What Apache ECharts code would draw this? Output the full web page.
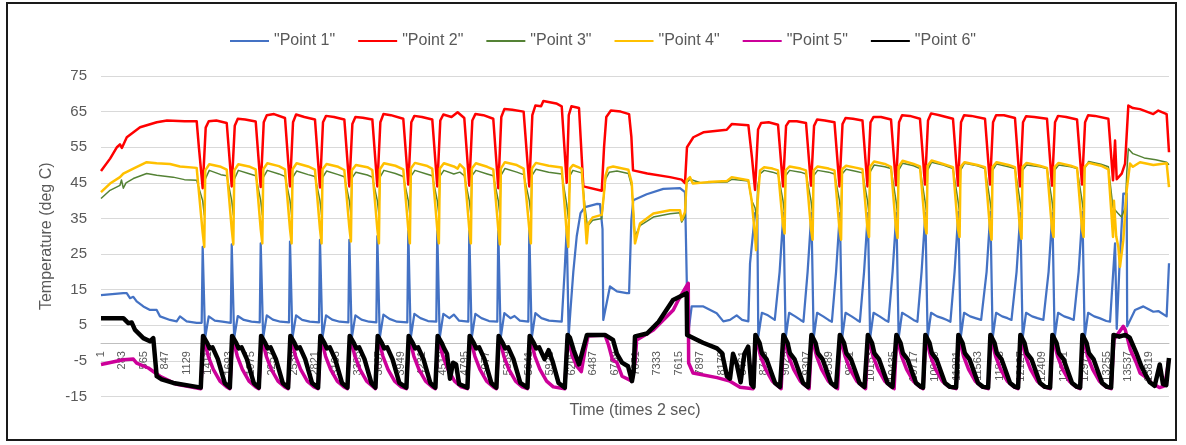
<!DOCTYPE html>
<html><head><meta charset="utf-8">
<script src="https://cdn.jsdelivr.net/npm/echarts/dist/echarts.min.js"></script>
<style>
html,body{margin:0;padding:0;background:#fff;}
#chart{position:absolute;left:0;top:0;width:1186px;height:445px;}
#frame{position:absolute;left:6px;top:2px;width:1171px;height:439px;border:2px solid #1a1a1a;box-sizing:border-box;pointer-events:none;}
</style>
</head><body><div id="chart"></div><div id="frame"></div>
<script>
const seriesNames = ['"Point 1"', '"Point 2"', '"Point 3"', '"Point 4"', '"Point 5"', '"Point 6"'];
const xMaxIndex = 14076;
const xLabelStep = 282;
const yTicks = [-15, -5, 5, 15, 25, 35, 45, 55, 65, 75];

// Point 1 (blue)
const point1 = [[0,13.5],[294,14],[339,14],[382,12.6],[426,13],[470,11.7],[558,10.3],[646,9.3],[734,9.3],[778,7.5],[909,6.5],[997,6.1],[1041,7.5],[1129,6.1],[1261,5.7],
[1327,5.7],[1340,27],[1365,27.3],[1372,1.5],[1420,7.5],[1500,6.3],[1600,6],
[1710,5.7],[1723,27.7],[1748,28],[1755,1.5],[1803,7.6],[1883,6.5],[1983,6],
[2092,5.8],[2105,28],[2130,28.3],[2137,1.5],[2185,7.8],[2265,6.6],[2365,6],
[2478,5.8],[2491,28.5],[2516,28.8],[2523,1.5],[2571,7.8],[2651,6.5],[2751,6],
[2873,5.8],[2886,29],[2911,29.3],[2918,1.5],[2966,7.8],[3046,6.6],[3146,6],
[3260,5.8],[3273,29],[3298,29.3],[3305,1.5],[3353,7.8],[3433,6.6],[3533,6],
[3629,5.8],[3642,30],[3667,30.3],[3674,1.5],[3722,8],[3802,6.8],[3902,6],
[4037,5.8],[4050,31.5],[4075,31.8],[4082,1.5],[4130,8.2],[4210,7],[4310,6.2],
[4419,6],[4432,31.5],[4457,31.8],[4464,1.5],[4512,8.2],[4592,7],[4650,8],[4720,6.3],
[4841,6],[4854,31.5],[4879,31.8],[4886,1.5],[4934,8.2],[5014,7],[5114,6.2],
[5223,6],[5236,31.5],[5261,31.8],[5268,1.5],[5316,8.4],[5396,7],[5450,7.6],[5520,6.3],
[5632,6],[5645,31.7],[5670,32],[5677,1.5],[5725,8.4],[5805,7],[5905,6.3],
[6072,6],[6110,20],[6138,32],[6158,32],[6164,2],[6190,10],[6225,20],[6270,30],[6320,36.5],[6380,38.2],[6540,39.1],[6577,39],[6610,32],[6620,6.5],[6708,15.9],[6800,14.5],[6929,14],[6960,14],[6990,34.5],[7015,40.1],[7192,41.8],[7411,43.3],[7631,43.5],[7697,42.4],[7723,42],[7735,1.9],[7785,10.3],[7939,10.3],[8115,8.4],[8202,6.1],[8290,6.5],[8378,7.8],[8450,6.5],[8532,6.1],[8554,22.4],
[8620,36.5],[8650,36],[8663,1.9],[8710,8.5],[8790,7.8],[8880,6.5],
[8889,6],[8944,20],[8994,36.5],[9014,36],[9024,1.5],[9069,8.5],[9149,7.5],[9219,6.5],
[9258,6],[9313,20],[9363,36.5],[9383,36],[9393,1.5],[9438,8.5],[9518,7.5],[9588,6.5],
[9633,6],[9688,20],[9738,36.5],[9758,36],[9768,1.5],[9813,8.5],[9893,7.5],[9963,6.5],
[10002,6],[10057,20],[10107,36.5],[10127,36],[10137,1.5],[10182,8.5],[10262,7.5],[10332,6.5],
[10378,6],[10433,20],[10483,36.5],[10503,36],[10513,1.5],[10558,8.5],[10638,7.5],[10708,6.5],
[10760,6],[10815,20],[10865,36.5],[10885,36],[10895,1.5],[10940,8.5],[11020,7.5],[11090,7],[11150,6.5],
[11195,6],[11250,20],[11300,36.8],[11320,36.3],[11330,1.5],[11375,8.5],[11455,7.5],[11525,7],[11600,6.5],
[11617,6],[11672,20],[11722,36.8],[11742,36.3],[11752,1.5],[11797,8.5],[11877,7.5],[11947,7],[12000,6.5],
[12012,6.2],[12067,20],[12117,36.5],[12137,36],[12147,1.5],[12192,8.5],[12272,7.5],[12342,7],[12420,6.5],
[12434,6.2],[12489,20],[12539,36.5],[12559,36],[12569,1.5],[12614,8.5],[12694,7.5],[12764,7],[12820,6.5],
[12830,6.2],[12885,20],[12935,36.8],[12955,36.3],[12965,1.5],[13010,8.5],[13090,7.5],[13160,7],[13250,6.2],
[13299,6],[13365,28],[13387,4],[13420,20],[13474,42],[13518,42],[13525,4.7],[13628,9.3],[13738,10.3],[13870,8.8],[13935,9],[14045,7.5],[14076,22.4]];

// Point 2 (red)
const point2 = [[0,48.3],[120,51.8],[210,55],[250,55.8],[275,54.8],[340,57.8],[515,60.6],[735,62],[870,62.5],[1100,62.3],[1261,62.3],[1290,55],
[1340,43.5],[1380,60.5],[1420,62.3],[1520,62.5],[1657,61.8],
[1723,44],[1763,61],[1803,63],[1900,62.8],[2039,62.2],
[2105,43.8],[2145,62],[2185,64],[2280,64.3],[2425,63.2],
[2491,44],[2531,62],[2571,64.2],[2680,63.5],[2820,62.8],
[2886,43.7],[2926,62],[2966,63.8],[3070,63.5],[3207,62.8],
[3273,44],[3313,61.5],[3353,63.5],[3450,63.3],[3576,62.8],
[3642,44],[3682,62],[3722,64.3],[3820,64],[3984,63],
[4050,44.5],[4090,62],[4130,63.8],[4230,63.5],[4366,62.8],
[4432,44],[4472,62.5],[4512,64.2],[4620,63.5],[4700,64.8],[4788,63.2],
[4854,44.2],[4894,62.5],[4934,64.3],[5040,64],[5170,63],
[5236,43.5],[5276,63.5],[5316,65.7],[5420,65.5],[5570,65],
[5645,44],[5685,64],[5725,66.7],[5800,66.5],[5830,68],[6000,67.3],[6072,66.5],
[6138,45],[6165,64],[6200,66.5],[6300,66],[6320,65.5],[6357,44],[6380,43.5],[6600,42.8],[6630,55],[6660,63.5],[6720,65.3],[6850,65],[6960,64.3],[6990,58],[7012,48.5],[7200,47.6],[7500,46.6],[7653,45.9],[7697,44.9],[7723,55],[7807,57.8],[7939,59.2],[8247,59.9],[8313,61.5],[8532,61.2],[8580,52],
[8620,43],[8660,60],[8700,61.8],[8800,62],[8923,61.3],
[8989,44],[9029,61],[9069,62.3],[9170,62.3],[9292,61.8],
[9358,44.2],[9398,61],[9438,62.8],[9540,62.5],[9667,62],
[9733,44],[9773,61.5],[9813,63.2],[9910,63],[10036,62.5],
[10102,44],[10142,62],[10182,63.5],[10280,63.5],[10412,62.8],
[10478,44.3],[10518,62],[10558,64],[10660,63.8],[10794,63],
[10860,44.5],[10900,62.5],[10940,64.5],[11050,64],[11229,63],
[11295,44.2],[11335,62],[11375,64],[11470,63.8],[11651,63],
[11717,44.5],[11757,62],[11797,64],[11900,64],[12046,63.2],
[12112,44],[12152,62],[12192,63.7],[12300,63.5],[12468,63],
[12534,44.2],[12574,62],[12614,63.8],[12720,63.5],[12864,62.8],
[12930,44.5],[12970,62],[13010,64],[13100,63.8],[13277,63],
[13338,45.7],[13365,56.9],[13387,46],[13453,47.6],[13497,50.4],[13540,66.7],[13600,66],[13694,65.7],[13869,64.3],[13935,65.3],[14045,64.3],[14076,53.6]];

// Point 3 (green)
const point3 = [[0,40.6],[119,42.9],[250,44.3],[270,45.8],[294,43.5],[330,45],[426,46.2],[602,47.6],[734,47.1],[950,46.6],[1100,45.9],[1261,45.7],
[1274,45.7],[1340,40],[1361,36],[1374,46],[1427,48.5],[1580,47.3],
[1657,47],[1723,40],[1744,36],[1757,46],[1810,48.5],[1964,47.5],
[2039,47],[2105,40],[2126,36],[2139,46.5],[2192,48.5],[2345,47.5],
[2425,46.8],[2491,40],[2512,36],[2525,46.5],[2578,48.3],[2730,47.3],
[2820,46.8],[2886,40],[2907,36],[2920,46.5],[2973,48.3],[3126,47.3],
[3207,46.7],[3273,40],[3294,36],[3307,46.3],[3360,48],[3510,47.2],
[3576,46.6],[3642,40],[3663,36],[3676,46.5],[3729,48.5],[3880,47.6],
[3984,46.8],[4050,40],[4071,36],[4084,46.8],[4137,48.5],[4290,47.5],
[4366,47],[4432,40],[4453,36],[4466,46.8],[4519,48.5],[4650,47.5],[4730,48],
[4788,47],[4854,40],[4875,36],[4888,47],[4941,48.5],[5090,47.5],
[5170,47],[5236,40],[5257,36],[5270,47],[5323,49],[5480,48],
[5570,47.3],[5645,40],[5666,36],[5679,47],[5732,48.8],[5900,48],
[6072,47.5],[6138,39],[6159,35],[6181,47],[6220,48.5],[6335,47.8],[6380,38],[6410,33],[6440,33.5],[6480,34.5],[6600,35],[6620,40],[6650,46],[6700,48],[6800,48.3],[6950,47.6],[6995,44],[7038,30],[7104,33],[7280,35.4],[7500,36.3],[7631,36.6],[7653,34],[7697,35.5],[7719,45],[7763,46],[7900,45],[8250,45.2],[8313,46],[8532,45.5],[8576,40],
[8620,38],[8640,35],[8655,44],[8686,47.5],[8740,48.5],[8850,48],
[8923,47.5],[8989,40],[9010,36],[9023,47],[9076,48.5],[9220,48],
[9292,47.5],[9358,40],[9379,36],[9392,47],[9445,48.5],[9590,48],
[9667,47.5],[9733,40],[9754,36],[9767,47.5],[9820,48.8],[9960,48.2],
[10036,47.8],[10102,40],[10123,36],[10136,48],[10189,50],[10330,49.5],
[10412,49],[10478,40],[10499,36],[10512,48.5],[10565,50.5],[10710,49.8],
[10794,49],[10860,40],[10881,36.5],[10894,48.5],[10947,50.8],[11100,50],
[11229,49],[11295,40],[11316,36.5],[11329,48.5],[11382,50.5],[11550,49.8],
[11651,49],[11717,40],[11738,36.5],[11751,48.5],[11804,50.3],[11960,49.5],
[12046,49],[12112,40],[12133,36.5],[12146,48.5],[12199,50],[12370,49.5],
[12468,49],[12534,40],[12555,36],[12568,48.5],[12621,50],[12780,49.5],
[12864,49],[12930,40],[12951,36.5],[12964,49],[13017,51],[13180,50.2],
[13277,49.5],[13338,38],[13400,36.5],[13450,35.4],[13500,38],[13520,48],[13540,54.6],[13600,53.2],[13750,52],[13900,51.5],[14045,50.8],[14076,50.1]];

// Point 4 (yellow)
const point4 = [[0,42.4],[119,44.8],[250,46.6],[294,47.6],[426,49],[602,50.8],[734,50.5],[909,50.3],[1041,49.6],[1261,49.2],
[1274,49],[1340,31],[1361,27],[1374,48.5],[1427,50.2],[1580,49.5],
[1657,48.7],[1723,32],[1744,27.7],[1757,48.5],[1810,50.2],[1964,49.5],
[2039,48.8],[2105,32],[2126,28],[2139,48.8],[2192,50.5],[2345,49.7],
[2425,48.8],[2491,32],[2512,28],[2525,48.8],[2578,50.5],[2730,49.6],
[2820,48.7],[2886,32],[2907,28],[2920,48.8],[2973,50.3],[3126,49.5],
[3207,48.6],[3273,32.5],[3294,28.5],[3307,48.5],[3360,50],[3510,49.4],
[3576,48.6],[3642,32],[3663,28],[3676,48.8],[3729,50.5],[3880,49.8],
[3984,48.8],[4050,32],[4071,28],[4084,49],[4137,50.6],[4290,49.8],
[4366,49],[4432,32],[4453,28],[4466,49],[4519,50.5],[4650,49.6],[4700,49],[4730,50.2],
[4788,49],[4854,32],[4875,28],[4888,49],[4941,50.5],[5090,49.5],
[5170,48.8],[5236,32],[5257,27.7],[5270,49],[5323,50.8],[5480,50],
[5570,49],[5645,32],[5666,28],[5679,49],[5732,50.6],[5900,49.8],
[6072,49.3],[6138,31],[6159,27],[6181,49],[6220,50],[6335,49],[6380,35],[6401,28],[6423,33.6],[6480,35.3],[6600,36],[6620,40],[6650,47],[6680,49.2],[6750,49.6],[6950,48.7],[6995,45],[7038,28],[7104,33.6],[7280,36.4],[7500,37.3],[7631,37.3],[7653,34.5],[7697,36.8],[7719,45.7],[7763,46.6],[7800,44.8],[8000,45.2],[8250,45.5],[8313,46.6],[8532,45.7],[8576,40],
[8620,30],[8633,26.1],[8655,40],[8686,48.5],[8740,49.4],[8850,49],
[8923,48.5],[8989,33],[9010,30.8],[9023,48.5],[9076,49.6],[9220,49],
[9292,48.5],[9358,32],[9379,29],[9392,48.5],[9445,49.6],[9590,49],
[9667,48.5],[9733,32],[9754,29],[9767,48.8],[9820,49.8],[9960,49.2],
[10036,48.8],[10102,32],[10123,29.8],[10136,49.5],[10189,51],[10330,50.3],
[10412,49.5],[10478,32],[10499,29.5],[10512,49.5],[10565,51.2],[10710,50.3],
[10794,49.6],[10860,33],[10881,30.8],[10894,49.8],[10947,51.3],[11100,50.3],
[11229,49.4],[11295,32],[11316,29.8],[11329,49.5],[11382,50.8],[11550,50],
[11651,49.4],[11717,32],[11738,29],[11751,49.5],[11804,50.8],[11960,50],
[12046,49.4],[12112,32],[12133,29.3],[12146,49.5],[12199,50.6],[12370,49.8],
[12468,49.2],[12534,32],[12555,29.8],[12568,49.4],[12621,50.6],[12780,49.8],
[12864,49.2],[12930,32],[12951,29.8],[12964,49.5],[13017,50.6],[13180,49.8],
[13277,48.8],[13338,29.8],[13350,40],[13380,30],[13408,27],[13430,21.4],[13474,28.9],[13518,42.9],[13562,50.4],[13600,49.5],[13694,50.8],[13870,50],[14045,50.5],[14076,43.8]];

// Point 5 (magenta)
const point5 = [[0,-6],[294,-4.7],[426,-4.5],[470,-5.6],[624,-7],[778,-9.3],[997,-11.6],[1261,-12.6],[1315,-12.8],
[1348,1],[1370,0],[1414,-3.7],[1480,-7.4],[1568,-10.7],[1656,-12.3],[1698,-12.8],
[1731,1],[1753,0],[1797,-3.7],[1863,-7.4],[1951,-10.7],[2039,-12.3],[2080,-12.8],
[2113,1],[2135,0],[2179,-3.7],[2245,-7.4],[2333,-10.7],[2421,-12.3],[2466,-12.8],
[2499,1],[2521,0],[2565,-3.7],[2631,-7.4],[2719,-10.7],[2807,-12.3],[2861,-12.8],
[2894,1],[2916,0],[2960,-3.7],[3026,-7.4],[3114,-10.7],[3202,-12.3],[3248,-12.8],
[3281,1],[3303,0],[3347,-3.7],[3413,-7.4],[3501,-10.7],[3589,-12.3],[3617,-12.8],
[3650,1],[3672,0],[3716,-3.7],[3782,-7.4],[3870,-10.7],[3958,-12.3],[4025,-12.8],
[4058,1],[4080,0],[4124,-3.7],[4190,-7.4],[4278,-10.7],[4366,-12.3],[4407,-12.8],
[4440,1],[4462,0],[4506,-3.7],[4572,-7.4],[4660,-10.7],[4748,-12.3],[4829,-12.8],
[4862,1],[4884,0],[4928,-3.7],[4994,-7.4],[5082,-10.7],[5170,-12.3],[5211,-12.8],
[5244,1],[5266,0],[5310,-3.7],[5376,-7.4],[5464,-10.7],[5552,-12.3],[5620,-12.8],
[5653,1],[5675,0],[5719,-3.7],[5785,-7.4],[5873,-10.7],[5961,-12.3],[6113,-12.8],
[6146,1],[6170,0],[6214,-3.7],[6270,-6.5],[6330,-8],[6380,-2],[6420,2],[6642,2.3],[6690,-0.6],[6740,-4.6],[6800,-5.5],[6867,-9.3],[6998,-10.7],[7040,-5],[7060,0.9],[7280,3.7],[7543,9.3],[7609,12.1],[7740,16.8],[7745,-5.6],[7803,-8.4],[8119,-9.7],[8290,-10.7],[8422,-12.4],[8595,-12.8],
[8628,1],[8650,0],[8694,-3.7],[8760,-7.4],[8848,-10.7],[8936,-12.3],[8964,-12.8],
[8997,1],[9019,0],[9063,-3.7],[9129,-7.4],[9217,-10.7],[9305,-12.3],[9333,-12.8],
[9366,1],[9388,0],[9432,-3.7],[9498,-7.4],[9586,-10.7],[9674,-12.3],[9708,-12.8],
[9741,1],[9763,0],[9807,-3.7],[9873,-7.4],[9961,-10.7],[10049,-12.3],[10077,-12.8],
[10110,1],[10132,0],[10176,-3.7],[10242,-7.4],[10330,-10.7],[10418,-12.3],[10453,-12.8],
[10486,1],[10508,0],[10552,-3.7],[10618,-7.4],[10706,-10.7],[10794,-12.3],[10835,-12.8],
[10868,1],[10890,0],[10934,-3.7],[11000,-7.4],[11088,-10.7],[11176,-12.3],[11270,-12.8],
[11303,1],[11325,0],[11369,-3.7],[11435,-7.4],[11523,-10.7],[11611,-12.3],[11692,-12.8],
[11725,1],[11747,0],[11791,-3.7],[11857,-7.4],[11945,-10.7],[12033,-12.3],[12087,-12.8],
[12120,1],[12142,0],[12186,-3.7],[12252,-7.4],[12340,-10.7],[12428,-12.3],[12509,-12.8],
[12542,1],[12564,0],[12608,-3.7],[12674,-7.4],[12762,-10.7],[12850,-12.3],[12905,-12.8],
[12938,1],[12960,0],[13004,-3.7],[13070,-7.4],[13158,-10.7],[13246,-12.3],[13313,-12.8],
[13350,1],[13474,4.7],[13500,3.7],[13567,-1.9],[13646,-5.6],[13694,-8.4],[13778,-9.7],[13844,-11.2],[13950,-12.5],[14020,-12],[14076,-4.5]];

// Point 6 (black)
const point6 = [[0,7],[294,7],[360,5.6],[404,5.8],[448,3.7],[558,1.4],[646,0.5],[689,1.4],[700,1.8],[734,-9.3],[800,-10.2],[953,-11.2],[1261,-12.3],[1315,-12.5],
[1345,2],[1370,2],[1400,0],[1430,-1.5],[1470,-1.2],[1540,-4.5],[1630,-11.2],[1698,-12.5],
[1728,2],[1753,2],[1783,0],[1813,-1.5],[1853,-1.2],[1923,-4.5],[2013,-11.2],[2080,-12.5],
[2110,2],[2135,2],[2165,0],[2195,-1.5],[2235,-1.2],[2305,-4.5],[2395,-11.2],[2466,-12.5],
[2496,2],[2521,2],[2551,0],[2581,-1.5],[2621,-1.2],[2691,-4.5],[2781,-11.2],[2861,-12.5],
[2891,2],[2916,2],[2946,0],[2976,-1.5],[3016,-1.2],[3086,-4.5],[3176,-11.2],[3248,-12.5],
[3278,2],[3303,2],[3333,0],[3363,-1.5],[3403,-1.2],[3473,-4.5],[3563,-11.2],[3617,-12.5],
[3647,2],[3672,2],[3702,0],[3732,-1.5],[3772,-1.2],[3842,-4.5],[3932,-11.2],[4025,-12.5],
[4055,2],[4080,2],[4110,0],[4140,-1.5],[4180,-1.2],[4250,-4.5],[4340,-11.2],[4407,-12.5],
[4437,2],[4462,2],[4492,0],[4522,-1.5],[4560,-3],[4600,-10],[4640,-5.5],[4680,-6],[4720,-11.5],[4829,-12.5],
[4859,2],[4884,2],[4914,0],[4944,-1.5],[4984,-1.2],[5054,-4.5],[5144,-11.2],[5211,-12.5],
[5241,2],[5266,2],[5296,0],[5326,-1.5],[5366,-1.2],[5436,-4.5],[5526,-11.2],[5620,-12.5],
[5650,2],[5675,2],[5705,0],[5735,-1.5],[5775,-1.2],[5845,-4.5],[5900,-2],[5950,-5],[6030,-11.2],[6113,-12.5],
[6150,2.3],[6180,1.5],[6230,-2],[6300,-6],[6350,-2],[6405,2.3],[6642,2.3],[6748,0.9],[6800,-3],[6867,-5.5],[6946,-6.5],[6998,-10.7],[7020,-8],[7038,1.9],[7196,2.7],[7350,6],[7539,12.1],[7719,14],[7725,2.3],[7934,0.1],[8119,-1.5],[8185,-2.8],[8250,-9.3],[8290,-10],[8330,-3],[8380,-6],[8430,-11],[8480,-3],[8530,-1],[8570,-11.5],[8600,-12.3],
[8625,2.3],[8650,2.3],[8680,0],[8710,-2.8],[8773,-4.6],[8884,-11.2],[8950,-12.3],[8964,-12.5],
[8994,2.3],[9019,2.3],[9049,0],[9079,-2.8],[9142,-4.6],[9253,-11.2],[9319,-12.3],[9333,-12.5],
[9363,2.3],[9388,2.3],[9418,0],[9448,-2.8],[9511,-4.6],[9622,-11.2],[9688,-12.3],[9708,-12.5],
[9738,2.3],[9763,2.3],[9793,0],[9823,-2.8],[9886,-4.6],[9997,-11.2],[10063,-12.3],[10077,-12.5],
[10107,2.3],[10132,2.3],[10162,0],[10192,-2.8],[10255,-4.6],[10366,-11.2],[10432,-12.3],[10453,-12.5],
[10483,2.3],[10508,2.3],[10538,0],[10568,-2.8],[10631,-4.6],[10742,-11.2],[10808,-12.3],[10835,-12.5],
[10865,2.3],[10890,2.3],[10920,0],[10950,-2.8],[11013,-4.6],[11124,-11.2],[11190,-12.3],[11270,-12.5],
[11300,2.3],[11325,2.3],[11355,0],[11385,-2.8],[11448,-4.6],[11559,-11.2],[11625,-12.3],[11692,-12.5],
[11722,2.3],[11747,2.3],[11777,0],[11807,-2.8],[11870,-4.6],[11981,-11.2],[12047,-12.3],[12087,-12.5],
[12117,2.3],[12142,2.3],[12172,0],[12202,-2.8],[12265,-4.6],[12376,-11.2],[12442,-12.3],[12509,-12.5],
[12539,2.3],[12564,2.3],[12594,0],[12624,-2.8],[12687,-4.6],[12798,-11.2],[12864,-12.3],[12905,-12.5],
[12935,2.3],[12960,2.3],[12990,0],[13020,-2.8],[13083,-4.6],[13194,-11.2],[13260,-12.3],[13313,-12.5],
[13345,2.3],[13420,1.8],[13500,2.3],[13558,1.5],[13646,-2.8],[13712,-6.5],[13778,-9.3],[13822,-11],[13888,-12],[13954,-6],[13997,-11.5],[14040,-11.8],[14076,-4.2]];

const seriesData = [point1, point2, point3, point4, point5, point6];
const seriesColors = ['#4472C4', '#FF0000', '#548235', '#FFC000', '#CC0099', '#000000'];
const seriesWidths = [2.25, 2.5, 1.5, 2.5, 3.5, 4.5];
const FONT = 'Liberation Sans, Arial, sans-serif';

const CHART_H = 445, GRID_TOP = 76, GRID_BOTTOM = 48.5;
const yMin = yTicks[0], yMax = yTicks[yTicks.length - 1];
const gridH = CHART_H - GRID_TOP - GRID_BOTTOM;
// shift the category axis line up to the y = 0 position (Excel "crosses at 0")
const xAxisOffset = -((0 - yMin) / (yMax - yMin)) * gridH;

const chart = echarts.init(document.getElementById('chart'), null, {renderer: 'canvas'});
chart.setOption({
  animation: false,
  backgroundColor: '#fff',
  textStyle: {fontFamily: FONT},
  legend: {
    top: 28, left: 224,
    itemWidth: 39, itemHeight: 10, itemGap: 22,
    itemStyle: {opacity: 0},
    textStyle: {fontSize: 16, color: '#595959', fontFamily: FONT},
    data: seriesNames
  },
  grid: {left: 101, right: 17, top: GRID_TOP, bottom: GRID_BOTTOM, containLabel: false},
  xAxis: {
    type: 'value', min: 0, max: xMaxIndex, interval: xLabelStep,
    position: 'bottom', offset: xAxisOffset,
    axisLine: {onZero: false, lineStyle: {color: '#bfbfbf', width: 1}},
    axisTick: {show: false},
    splitLine: {show: false},
    axisLabel: {rotate: 90, fontSize: 11, color: '#595959', margin: 8, showMaxLabel: false, showMinLabel: true,
      fontFamily: FONT, formatter: v => String(v + 1)},
    name: 'Time (times 2 sec)', nameLocation: 'middle', nameGap: 60,
    nameTextStyle: {fontSize: 16, color: '#595959', fontFamily: FONT}
  },
  yAxis: {
    type: 'value', min: yMin, max: yMax, interval: 10,
    axisLine: {show: false, onZero: false}, axisTick: {show: false},
    splitLine: {lineStyle: {color: '#d9d9d9', width: 1}},
    axisLabel: {fontSize: 15, color: '#595959', margin: 14, fontFamily: FONT},
    name: 'Temperature (deg C)', nameLocation: 'middle', nameGap: 46,
    nameTextStyle: {fontSize: 16, color: '#595959', fontFamily: FONT}
  },
  series: seriesNames.map((n, i) => ({
    name: n, type: 'line', data: seriesData[i],
    showSymbol: false, symbol: 'none', smooth: false,
    color: seriesColors[i],
    lineStyle: {color: seriesColors[i], width: seriesWidths[i], join: 'round'},
    z: 2 + i
  }))
});
</script>
</body></html>
